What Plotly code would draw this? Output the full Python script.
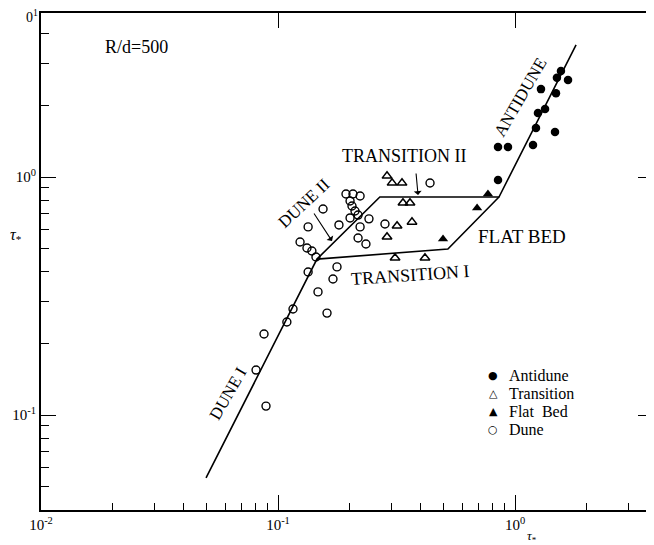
import plotly.graph_objects as go

# ---------------- data ----------------
dune_x = [0.0890, 0.0808, 0.0873, 0.109, 0.1157, 0.161, 0.1475, 0.134, 0.1706, 0.1774,
          0.1446, 0.139, 0.1325, 0.1239, 0.134, 0.1549, 0.1808, 0.1936, 0.2072, 0.222,
          0.2014, 0.2052, 0.2113, 0.2177, 0.2014, 0.242, 0.222, 0.2177, 0.235, 0.2827, 0.438]
dune_y = [0.109, 0.1545, 0.219, 0.246, 0.279, 0.268, 0.329, 0.399, 0.373, 0.419,
          0.461, 0.489, 0.503, 0.533, 0.617, 0.734, 0.629, 0.848, 0.848, 0.832,
          0.793, 0.755, 0.720, 0.692, 0.673, 0.667, 0.617, 0.554, 0.523, 0.635, 0.944]

trans_x = [0.2884, 0.303, 0.3336, 0.3368, 0.3605, 0.318, 0.3676, 0.2884, 0.3118, 0.417]
trans_y = [1.01, 0.944, 0.944, 0.778, 0.778, 0.623, 0.647, 0.560, 0.457, 0.457]

flat_x = [0.769, 0.692, 0.497]
flat_y = [0.848, 0.741, 0.549]

anti_x = [1.563, 1.503, 1.674, 1.287, 1.489, 1.339, 1.250, 1.226, 1.475, 0.848, 0.934, 1.191, 0.848]
anti_y = [2.79, 2.61, 2.556, 2.34, 2.25, 1.931, 1.857, 1.606, 1.546, 1.337, 1.337, 1.363, 0.971]

# regime boundaries (None separates segments)
bound_x = [0.0497, 0.146, 0.269, 0.856, 1.81, None, 0.146, 0.521, 0.856]
bound_y = [0.0544, 0.452, 0.824, 0.824, 3.59, None, 0.452, 0.498, 0.824]

legend_labels = ["Antidune", "Transition", "Flat  Bed", "Dune"]
legend_symbols = ["●", "△", "▲", "○"]

x_major = [0.01, 0.1, 1]
x_major_text = ["10<sup>-2</sup>", "10<sup>-1</sup>", "10<sup>0</sup>"]
x_minor = [0.02, 0.03, 0.04, 0.05, 0.06, 0.07, 0.08, 0.09,
           0.2, 0.3, 0.4, 0.5, 0.6, 0.7, 0.8, 0.9, 2, 3]
y_major = [0.1, 1]
y_major_text = ["10<sup>-1</sup>", "10<sup>0</sup>"]
y_minor = [0.05, 0.06, 0.07, 0.08, 0.09,
           0.2, 0.3, 0.4, 0.5, 0.6, 0.7, 0.8, 0.9, 2, 3, 4]

FONT = "Liberation Serif"
X_RANGE = [-2, 0.5823]
Y_RANGE = [-1.399, 0.689]

# the page body has an 8px default margin: the figure starts at (8, 8) on screen
OFF = 8
PLOT_L, PLOT_T, PLOT_W, PLOT_H = 41, 13, 612, 497   # plot area in screen pixels

fig = go.Figure()

fig.add_trace(go.Scatter(x=bound_x, y=bound_y, mode="lines",
                         line=dict(color="black", width=1.6),
                         showlegend=False, hoverinfo="skip"))

fig.add_trace(go.Scatter(x=anti_x, y=anti_y, mode="markers", name=legend_labels[0],
                         marker=dict(symbol="circle", size=8.5, color="black")))
fig.add_trace(go.Scatter(x=trans_x, y=trans_y, mode="markers", name=legend_labels[1],
                         marker=dict(symbol="triangle-up-open", size=8.5, color="black",
                                     line=dict(width=1.5, color="black"))))
fig.add_trace(go.Scatter(x=flat_x, y=flat_y, mode="markers", name=legend_labels[2],
                         marker=dict(symbol="triangle-up", size=9, color="black")))
fig.add_trace(go.Scatter(x=dune_x, y=dune_y, mode="markers", name=legend_labels[3],
                         marker=dict(symbol="circle-open", size=8, color="black",
                                     line=dict(width=1.4, color="black"))))

# empty trace to carry the mirrored (top/right) axes with major ticks only
fig.add_trace(go.Scatter(x=[None], y=[None], xaxis="x2", yaxis="y2",
                         showlegend=False, hoverinfo="skip"))

axis_common = dict(type="log", showgrid=False, zeroline=False, automargin=False,
                   ticks="inside", ticklen=15, tickwidth=1.3, tickcolor="black",
                   tickfont=dict(family=FONT, size=15, color="black"))

W = 654 - OFF
H = 545 - OFF
fig.update_layout(
    width=W, height=H,
    margin=dict(l=PLOT_L - OFF, r=W - (PLOT_L - OFF) - PLOT_W, t=PLOT_T - OFF,
                b=H - (PLOT_T - OFF) - PLOT_H, autoexpand=False),
    paper_bgcolor="white", plot_bgcolor="white",
    font=dict(family=FONT, color="black"),
    xaxis=dict(**axis_common, range=X_RANGE, tickvals=x_major, ticktext=x_major_text,
               showline=True, linewidth=1.8, linecolor="black", mirror=True,
               minor=dict(ticks="inside", ticklen=7, tickwidth=1.2, tickcolor="black",
                          tickvals=x_minor, showgrid=False)),
    yaxis=dict(**axis_common, range=Y_RANGE, tickvals=y_major, ticktext=y_major_text,
               showline=True, linewidth=1.8, linecolor="black", mirror=True,
               minor=dict(ticks="inside", ticklen=8, tickwidth=1.2, tickcolor="black",
                          tickvals=y_minor, showgrid=False)),
    xaxis2=dict(type="log", range=X_RANGE, overlaying="x", side="top", anchor="y",
                automargin=False,
                showgrid=False, zeroline=False, showline=False, showticklabels=False,
                ticks="inside", ticklen=15, tickwidth=1.3, tickcolor="black",
                tickvals=x_major),
    yaxis2=dict(type="log", range=Y_RANGE, overlaying="y", side="right", anchor="x",
                automargin=False,
                showgrid=False, zeroline=False, showline=False, showticklabels=False,
                ticks="inside", ticklen=15, tickwidth=1.3, tickcolor="black",
                tickvals=y_major),
    showlegend=False,
)

def px_x(sx):
    return (sx - PLOT_L) / PLOT_W

def px_y(sy):
    return 1 - (sy - PLOT_T) / PLOT_H

def label(text, x, y, angle=0, size=16):
    fig.add_annotation(text=text, x=x, y=y, xref="x", yref="y", showarrow=False,
                       xanchor="center", yanchor="middle",
                       textangle=angle, font=dict(family=FONT, size=size, color="black"))

label("R/d=500", -1.599, 0.546, size=18)
label("DUNE I", -1.211, -0.908, angle=-60, size=17)
label("DUNE II", -0.890, -0.113, angle=-43, size=17)
label("TRANSITION II", -0.468, 0.088, size=18)
label("TRANSITION I", -0.443, -0.410, angle=-4, size=18)
label("FLAT BED", 0.0295, -0.248, size=19)
label("ANTIDUNE", 0.021, 0.336, angle=-60, size=17)

def arrow(x0, y0, x1, y1):
    fig.add_annotation(text="", x=x1, y=y1, ax=x0, ay=y0, xref="x", yref="y",
                       axref="x", ayref="y", showarrow=True, arrowhead=1,
                       arrowsize=1.2, arrowwidth=1.1, arrowcolor="black")

arrow(-0.852, -0.147, -0.772, -0.269)
arrow(-0.418, 0.021, -0.409, -0.0756)

# text-style legend (symbol + label), rows 18.3 px apart
for i, (sym, lab) in enumerate(zip(legend_symbols, legend_labels)):
    yp = px_y(375 + i * 18.3)
    fig.add_annotation(text=sym, xref="paper", yref="paper",
                       x=px_x(493), y=yp, showarrow=False,
                       xanchor="center", yanchor="middle",
                       font=dict(family="DejaVu Sans", size=11, color="black"))
    fig.add_annotation(text=lab, xref="paper", yref="paper",
                       x=px_x(507), y=yp, showarrow=False,
                       xanchor="left", yanchor="middle",
                       font=dict(family=FONT, size=16, color="black"))

# axis titles and clipped top tick label
fig.add_annotation(text="<i>τ</i><sub>*</sub>", xref="paper", yref="paper",
                   x=px_x(16), y=px_y(236), showarrow=False,
                   xanchor="center", yanchor="middle",
                   font=dict(family=FONT, size=16, color="black"))
fig.add_annotation(text="<i>τ</i><sub>*</sub>", xref="paper", yref="paper",
                   x=px_x(532), y=px_y(536), showarrow=False,
                   xanchor="center", yanchor="middle",
                   font=dict(family=FONT, size=13, color="black"))
fig.add_annotation(text="0<sup>1</sup>", xref="paper", yref="paper",
                   x=px_x(32), y=px_y(16), showarrow=False,
                   xanchor="center", yanchor="middle",
                   font=dict(family=FONT, size=14, color="black"))

fig.write_html("out.html")
